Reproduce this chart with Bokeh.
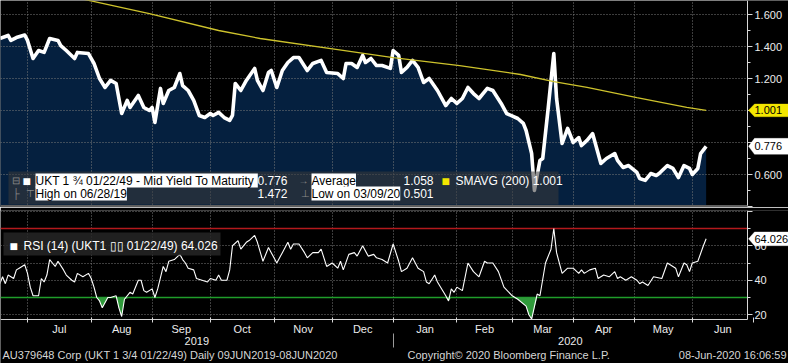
import pandas as pd
from bokeh.plotting import figure
from bokeh.layouts import column
from bokeh.models import (Range1d, LinearAxis, FixedTicker, Label, BoxAnnotation,
                          PolyAnnotation)
from bokeh.embed import file_html
from bokeh.resources import INLINE

# ---------------- data (x = trading-day number, 0 = 10-Jun-2019) ----------------
start_date = "2019-06-10"

yield_day = [5, 8, 9, 11, 14, 15, 17, 19, 21, 23, 26, 27, 29, 32, 33, 37, 39, 41, 43, 45,
             47, 49, 51, 52, 55, 57, 59, 60, 61, 63, 64, 66, 68, 70, 71, 73, 75, 77, 79, 81,
             82, 84, 86, 88, 89, 90, 92, 94, 97, 98, 100, 102, 103, 105, 107, 109, 111, 113, 116, 118,
             121, 123, 127, 129, 130, 132, 134, 136, 137, 139, 141, 143, 146, 147, 149, 150, 152, 154, 156, 158,
             160, 163, 166, 168, 170, 172, 174, 176, 178, 181, 183, 186, 188, 192, 194, 195, 197, 198, 200, 201,
             203, 205, 206, 208, 210, 212, 214, 215, 217, 219, 220, 222, 224, 227, 228, 230, 232, 235, 236, 238,
             240, 242, 243, 246, 248, 250, 252, 254, 255, 257, 258, 260]
yield_val = [1.450, 1.469, 1.438, 1.456, 1.472, 1.438, 1.325, 1.375, 1.363, 1.450, 1.438, 1.406, 1.375, 1.325, 1.363, 1.356, 1.294, 1.200, 1.144, 1.188,
             1.169, 0.981, 1.063, 1.019, 1.094, 1.019, 1.000, 1.019, 0.925, 1.138, 1.044, 1.125, 1.144, 1.231, 1.156, 1.125, 1.063, 0.969, 0.956, 0.981,
             0.969, 0.988, 0.956, 0.938, 0.969, 1.169, 1.125, 1.188, 1.263, 1.188, 1.125, 1.238, 1.250, 1.144, 1.250, 1.300, 1.331, 1.331, 1.250, 1.294,
             1.313, 1.238, 1.231, 1.200, 1.294, 1.294, 1.269, 1.344, 1.300, 1.325, 1.281, 1.281, 1.263, 1.375, 1.344, 1.238, 1.269, 1.313, 1.269, 1.175,
             1.200, 1.125, 1.031, 1.075, 1.044, 1.075, 1.144, 1.106, 1.075, 1.138, 1.125, 1.044, 0.981, 0.950, 0.919, 0.875, 0.731, 0.501, 0.688, 0.700,
             1.019, 1.356, 1.075, 0.794, 0.888, 0.800, 0.831, 0.781, 0.813, 0.856, 0.794, 0.669, 0.700, 0.731, 0.688, 0.644, 0.656, 0.613, 0.575, 0.563,
             0.606, 0.594, 0.606, 0.656, 0.638, 0.581, 0.656, 0.638, 0.600, 0.638, 0.731, 0.776]

sma_day = [34, 59, 84, 99, 127, 147, 171, 193, 205, 217, 235, 253, 260]
sma_val = [1.700, 1.606, 1.500, 1.450, 1.381, 1.331, 1.281, 1.225, 1.181, 1.144, 1.081, 1.019, 1.001]

rsi_day = [5, 6, 7, 8, 10, 11, 12, 14, 15, 16, 17, 19, 20, 21, 22, 23, 24, 25, 26, 28,
           29, 31, 32, 33, 35, 37, 38, 39, 40, 41, 42, 44, 45, 47, 48, 49, 50, 52, 53, 55,
           56, 57, 58, 60, 61, 62, 64, 65, 66, 68, 70, 71, 72, 73, 75, 76, 78, 80, 81, 83,
           84, 85, 87, 88, 89, 91, 92, 94, 95, 97, 98, 100, 102, 103, 105, 107, 109, 110, 111, 113,
           115, 116, 118, 120, 121, 123, 125, 127, 128, 129, 131, 133, 134, 136, 138, 140, 141, 143, 145, 147,
           149, 150, 152, 154, 156, 158, 159, 160, 162, 163, 166, 167, 168, 169, 170, 172, 174, 176, 178, 180,
           181, 183, 185, 187, 190, 192, 195, 196, 197, 199, 200, 202, 204, 205, 206, 208, 210, 212, 214, 215,
           216, 218, 220, 221, 223, 225, 227, 228, 229, 231, 233, 235, 236, 237, 239, 241, 244, 246, 249, 250,
           252, 253, 254, 255, 257, 259, 260]
rsi_val = [38, 42, 38, 43, 41, 46, 47, 49, 44, 36, 31, 31, 41, 39, 43, 52, 50, 48, 51, 46,
           43, 40, 39, 44, 42, 44, 41, 36, 30, 28, 24, 30, 30, 31, 24, 19, 29, 33, 32, 40,
           40, 34, 33, 35, 30, 35, 48, 45, 51, 52, 55, 52, 50, 47, 46, 41, 40, 39, 41, 40,
           43, 40, 40, 46, 60, 63, 58, 62, 63, 66, 62, 51, 59, 56, 50, 56, 62, 58, 61, 61,
           56, 53, 56, 56, 58, 48, 50, 47, 51, 46, 55, 56, 54, 60, 54, 55, 53, 52, 50, 61,
           51, 45, 47, 53, 47, 45, 39, 38, 43, 39, 31, 28, 35, 33, 36, 34, 50, 45, 42, 51,
           50, 50, 45, 36, 31, 29, 25, 20, 17.5, 32, 31, 50, 58, 70, 56, 44, 47, 47, 44, 46,
           44, 46, 47, 41, 43, 42, 45, 41, 42, 40, 42, 40, 38, 39, 37, 42, 41, 50, 47, 42,
           50, 49, 45, 50, 51, 60, 64.026]

month_names = ["Jul", "Aug", "Sep", "Oct", "Nov", "Dec", "Jan", "Feb", "Mar", "Apr", "May", "Jun"]
year_labels = ["2019", "2020"]
top_ticks = [0.4, 0.6, 0.8, 1.0, 1.2, 1.4, 1.6]
top_minor = [0.5, 0.7, 0.9, 1.1, 1.3, 1.5]
rsi_ticks = [20, 40, 60, 80]
rsi_minor = [30, 50, 70]
rsi_grid = [20, 30, 40, 50, 60, 70, 80]

# ---------------- layout helpers (reference-pixel -> data units) ----------------
FONT = "Liberation Sans"
FS = "11px"
LFS = "12px"
W = 788
H1, H2 = 207, 156


def fx(px):          # reference pixel -> trading day
    return (px + 14.55) / 2.77


def fy_top(py):      # reference pixel -> yield
    return 1.6 - (py - 14) * 0.00625


def fy_bot(py):      # reference pixel -> RSI
    return 30 + (297 - py) / 1.725


X0, X1 = fx(0), fx(788)
AX_X = fx(747)                       # where the value axes sit
TOP_Y = (fy_top(207), fy_top(0))
BOT_Y = (fy_bot(363), fy_bot(210))
RSI_FLOOR = fy_bot(319)

bdays = pd.bdate_range(start_date, "2020-08-31")
mstarts = pd.date_range("2019-07-01", "2020-07-01", freq="MS")
start_idx = [int(bdays.searchsorted(m)) for m in mstarts]
mid_idx = [(start_idx[i] + start_idx[i + 1]) / 2 for i in range(len(month_names))]
jan_idx = start_idx[6]
year_pos = [(X0 + jan_idx) / 2, (jan_idx + AX_X) / 2]

xr = Range1d(X0, X1)
common = dict(width=W, x_range=xr, x_axis_location=None, y_axis_location="right",
              toolbar_location=None, output_backend="svg", background_fill_color="black",
              border_fill_color="black", outline_line_color=None, min_border_left=0,
              min_border_right=0, min_border_bottom=0)

AX = "#d8d8d8"


def style_axis(ax):
    ax.axis_line_color = AX
    ax.major_tick_line_color = AX
    ax.minor_tick_line_color = AX
    ax.major_tick_out = 5
    ax.major_tick_in = 0
    ax.minor_tick_out = 3
    ax.minor_tick_in = 0
    ax.major_label_text_color = "#ececec"
    ax.major_label_text_font = FONT
    ax.major_label_text_font_size = FS
    ax.major_label_standoff = 2


def lab(p, x, y, text, color="white", bg=None, size=LFS, align="left"):
    p.add_layout(Label(x=x, y=y, text=text, text_color=color, text_font=FONT,
                       text_font_size=size, text_align=align, text_baseline="middle",
                       background_fill_color=bg, padding=0))


def style_grid(p):
    for g in (p.xgrid, p.ygrid):
        g.grid_line_color = "#7a7a7a"
        g.grid_line_dash = "1 2"
        g.grid_line_width = 1


def cover(p, **kw):
    b = BoxAnnotation(fill_color="black", fill_alpha=1, line_color=None, level="underlay", **kw)
    p.add_layout(b)


def flag(p, yc, half, col, txt):
    p.add_layout(PolyAnnotation(xs=[fx(748), fx(754), fx(788), fx(788), fx(754)],
                                ys=[yc, yc + half, yc + half, yc - half, yc - half],
                                fill_color=col, fill_alpha=1, line_color=col))
    lab(p, fx(754), yc, txt, color="black", size=FS)


# ---------------- top panel ----------------
p1 = figure(height=H1, y_range=Range1d(*TOP_Y), min_border_top=0, **common)
ya = p1.yaxis[0]
ya.ticker = FixedTicker(ticks=top_ticks, minor_ticks=top_minor)
ya.major_label_overrides = {t: ("" if t in (0.4, 0.8, 1.0) else f"{t:.3f}") for t in top_ticks}
ya.fixed_location = AX_X
style_axis(ya)
p1.ygrid.ticker = FixedTicker(ticks=top_ticks)
p1.xgrid.ticker = FixedTicker(ticks=start_idx)
style_grid(p1)
cover(p1, left=AX_X)

area = p1.varea(x=yield_day, y1=0, y2=yield_val, fill_color="#05203f")
area.level = "image"
p1.line(yield_day, yield_val, line_color="white", line_width=3.6, line_join="round")
p1.line(sma_day, sma_val, line_color="#cdc22c", line_width=1.3)

# separator bar between the panels
p1.add_layout(BoxAnnotation(left=X0, right=AX_X, bottom=TOP_Y[0], top=fy_top(204.5),
                            fill_color="#5e5e5e", fill_alpha=1, line_color=None))

# legend box
p1.add_layout(BoxAnnotation(left=fx(8), right=fx(558), top=fy_top(171), bottom=fy_top(204),
                            fill_color="#3a3a3a", fill_alpha=0.55, line_color=None))
r1, r2 = fy_top(180), fy_top(193)
lab(p1, fx(11), r1, "⊟", color="#8a8a8a", size="10px")
lab(p1, fx(12), r2, "├", color="#8a8a8a", size="10px")
lab(p1, fx(25), r2, "⊤", color="#8a8a8a", size="10px")
lab(p1, fx(22), r1, "■", color="white", size="14px")
lab(p1, fx(35), r1, "UKT 1 ¾  01/22/49 - Mid Yield To Maturity", color="black", bg="white")
lab(p1, fx(35), r2, "High on 06/28/19", color="black", bg="white")
lab(p1, fx(287), r1, "0.776", align="right")
lab(p1, fx(287), r2, "1.472", align="right")
lab(p1, fx(298), r1, "→", color="#8a8a8a", size="10px")
lab(p1, fx(300), r2, "⊥", color="#8a8a8a", size="10px")
lab(p1, fx(311), r1, "Average", color="black", bg="white")
lab(p1, fx(311), r2, "Low on 03/09/20", color="black", bg="white")
lab(p1, fx(403), r1, "1.058")
lab(p1, fx(403), r2, "0.501")
lab(p1, fx(441), r1, "■", color="#f3e600", size="14px")
lab(p1, fx(455), r1, "SMAVG (200) 1.001")

flag(p1, sma_val[-1], 0.04, "#f3e600", "1.001")
flag(p1, yield_val[-1], 0.05, "white", "0.776")

# ---------------- bottom panel ----------------
p2 = figure(height=H2, y_range=Range1d(*BOT_Y), min_border_top=3, **common)
yb = p2.yaxis[0]
yb.ticker = FixedTicker(ticks=rsi_ticks, minor_ticks=rsi_minor)
yb.major_label_overrides = {80: ""}
yb.fixed_location = AX_X
yb.bounds = (RSI_FLOOR, BOT_Y[1])
style_axis(yb)
p2.ygrid.ticker = FixedTicker(ticks=rsi_grid)
p2.xgrid.ticker = FixedTicker(ticks=start_idx)
style_grid(p2)

red = BoxAnnotation(bottom=69.55, top=70.45, fill_color="#b3191c", fill_alpha=1, line_color=None, level="underlay")
green = BoxAnnotation(bottom=29.55, top=30.45, fill_color="#1f9d2a", fill_alpha=1, line_color=None, level="underlay")
p2.add_layout(red)
p2.add_layout(green)
cover(p2, left=AX_X)
cover(p2, top=RSI_FLOOR)

p2.varea(x=rsi_day, y1=[min(v, 30) for v in rsi_val], y2=30, fill_color="#2f9a3a")
p2.line(rsi_day, rsi_val, line_color="white", line_width=1.1)

p2.add_layout(BoxAnnotation(left=fx(3), right=fx(220), top=fy_bot(232), bottom=fy_bot(255),
                            fill_color="#262626", fill_alpha=0.85, line_color=None))
lab(p2, fx(9), fy_bot(245), "■", color="white", size="14px")
lab(p2, fx(23), fy_bot(245), "RSI (14) (UKT1 ▯▯ 01/22/49) 64.026")
flag(p2, rsi_val[-1], 4.0, "white", "64.026")

month_axis = LinearAxis(ticker=FixedTicker(ticks=mid_idx, minor_ticks=start_idx),
                        major_label_overrides={m: n for m, n in zip(mid_idx, month_names)},
                        fixed_location=RSI_FLOOR, bounds=(X0, AX_X))
style_axis(month_axis)
month_axis.axis_line_color = "#cfcfcf"
month_axis.major_tick_out = 0
month_axis.minor_tick_out = 3
month_axis.minor_tick_in = 2
month_axis.major_label_standoff = 0
p2.add_layout(month_axis, "below")

year_axis = LinearAxis(ticker=FixedTicker(ticks=year_pos),
                       major_label_overrides={y: t for y, t in zip(year_pos, year_labels)},
                       fixed_location=fy_bot(334))
style_axis(year_axis)
year_axis.axis_line_color = None
year_axis.major_tick_line_color = None
year_axis.minor_tick_line_color = None
year_axis.major_tick_out = 0
year_axis.minor_tick_out = 0
year_axis.major_label_standoff = 2
p2.add_layout(year_axis, "below")

sep_axis = LinearAxis(ticker=FixedTicker(ticks=[jan_idx]), major_label_overrides={jan_idx: ""},
                      fixed_location=fy_bot(333))
sep_axis.axis_line_color = None
sep_axis.minor_tick_line_color = None
sep_axis.major_tick_line_color = "#9a9a9a"
sep_axis.major_tick_in = 0
sep_axis.major_tick_out = 14
p2.add_layout(sep_axis, "below")

fy_foot = fy_bot(354)
lab(p2, fx(2), fy_foot, "AU379648 Corp (UKT 1 3/4 01/22/49)  Daily 09JUN2019-08JUN2020", color="#d6d6d6", size=FS)
lab(p2, fx(407), fy_foot, "Copyright© 2020 Bloomberg Finance L.P.", color="#d6d6d6", size=FS)
lab(p2, fx(786), fy_foot, "08-Jun-2020 16:06:59", color="#d6d6d6", size=FS, align="right")

layout = column(p1, p2, spacing=0)
open("out.html", "w").write(file_html(layout, INLINE))
